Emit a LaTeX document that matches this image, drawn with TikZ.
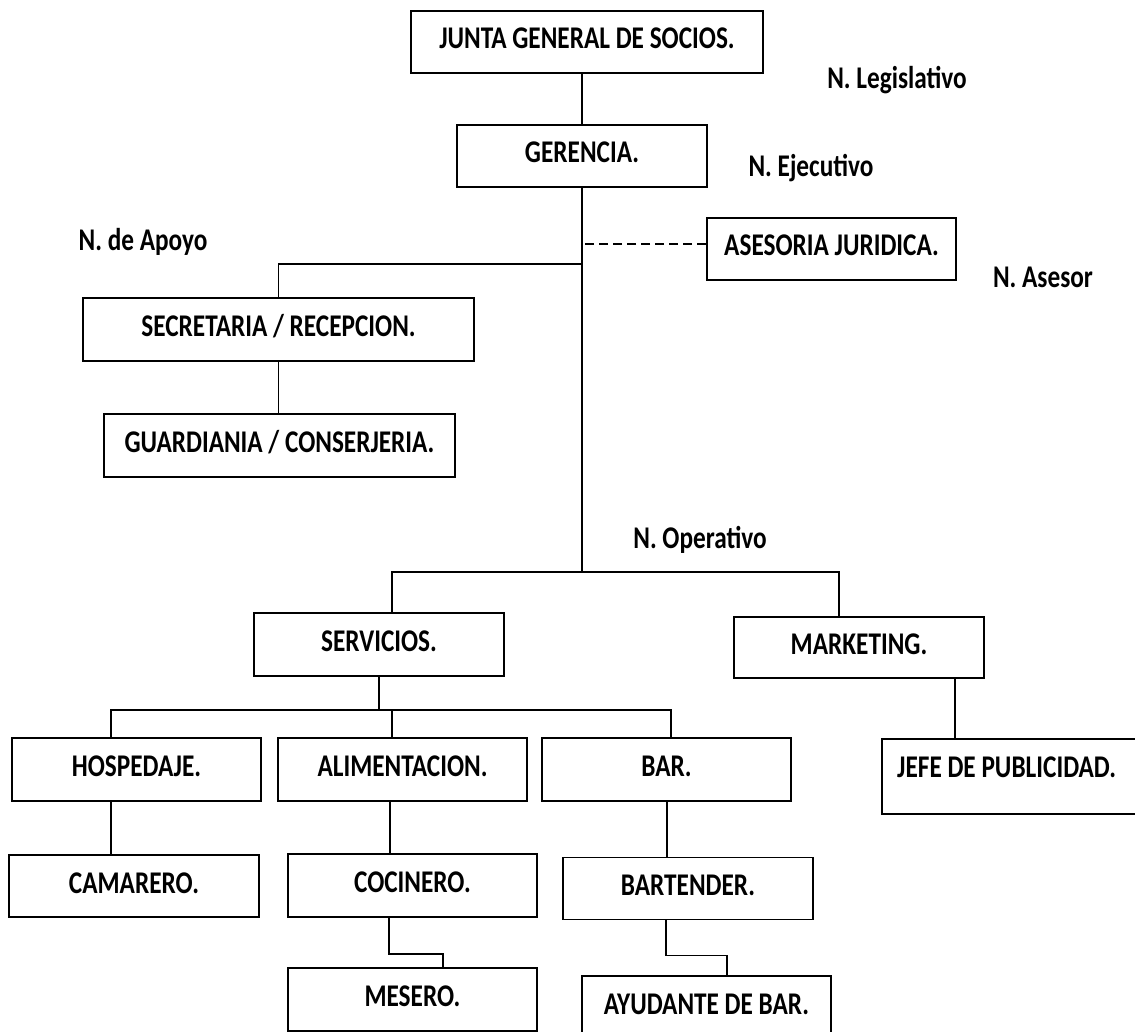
\documentclass[tikz,border=0pt]{standalone}
\usepackage{fontspec}
\setmainfont{Carlito}[FakeStretch=0.8]
\usetikzlibrary{calc, positioning}

\tikzset{
  puesto/.style={draw, line width=1.9pt, inner sep=0pt, minimum width=250pt,
    minimum height=62pt, text height=20pt, text depth=6pt},
  nivel/.style={inner sep=0pt},
  linea/.style={line width=1.9pt},
}

\begin{document}
\begin{tikzpicture}[x=1pt, y=-1pt, font=\bfseries\fontsize{31.6}{36}\selectfont]
    \useasboundingbox (0,0) rectangle (1135,1032);
    \fill[white] (0,0) rectangle (1135,1032);
    \clip (0,0) rectangle (1135,1032);

    % niveles
    \node[nivel] (leg) at (897,80) {N. Legislativo};
    \node[nivel] (eje) at (811,168) {N. Ejecutivo};
    \node[nivel] (apy) at (143,242) {N. de Apoyo};
    \node[nivel] (asr) at (1043,277) {N. Asesor};
    \node[nivel] (opr) at (700,540) {N. Operativo};

    % cargos
    \node[puesto, minimum width=352pt] (junta) at (587,42) {JUNTA GENERAL DE SOCIOS.};
    \node[puesto] (ger) at (582,156) {GERENCIA.};
    \node[puesto, minimum width=249pt] (ase) at (831.5,249) {ASESORIA JURIDICA.};
    \node[puesto, minimum width=391pt, minimum height=63pt] (sec) at (278.5,329.5) {SECRETARIA / RECEPCION.};
    \node[puesto, minimum width=351pt, minimum height=63pt] (gua) at (279.5,445.5) {GUARDIANIA / CONSERJERIA.};
    \node[puesto, minimum height=63pt] (ser) at (379,644.5) {SERVICIOS.};
    \node[puesto, minimum height=61pt] (mkt) at (859,647.5) {MARKETING.};
    \node[puesto, minimum width=249pt, minimum height=63pt] (hos) at (136.5,769.5) {HOSPEDAJE.};
    \node[puesto, minimum width=249pt, minimum height=63pt] (ali) at (402.5,769.5) {ALIMENTACION.};
    \node[puesto, minimum width=249pt, minimum height=63pt] (bar) at (666.5,769.5) {BAR.};
    \node[draw, linea, anchor=north west, minimum width=264pt, minimum height=75pt] (jefe) at (881,738) {};
    \node[nivel, anchor=west] (jefetxt) at (897,767) {JEFE DE PUBLICIDAD.};
    \node[puesto] (cam) at (134,886) {CAMARERO.};
    \node[puesto, minimum width=249pt, minimum height=63pt] (coc) at (412.5,885.5) {COCINERO.};
    \node[puesto] (bart) at (688,888.5) {BARTENDER.};
    \node[puesto, minimum width=249pt, minimum height=63pt] (mes) at (412.5,999.5) {MESERO.};
    \node[puesto, minimum width=249pt] (ayu) at (706.5,1007) {AYUDANTE DE BAR.};

    % puntos de union
    \coordinate (apo) at (582,264);
    \coordinate (ope) at (582,572);
    \coordinate (svc) at (379,710);

    % conexiones
    \draw[linea] (ger.north) -- (ger.north |- junta.south);
    \draw[linea] (ger.south) -- (ope);
    \draw[linea, dash pattern=on 9pt off 5pt] ([yshift=5pt]ase.west) -- ([yshift=5pt]ase.west -| ger.south);
    \draw[linea] (apo) -| (sec.north);
    \draw[linea] (sec.south) -- (sec.south |- gua.north);
    \draw[linea] ([xshift=13pt]ser.north) |- (ope);
    \draw[linea] (ope) -| ([xshift=-20pt]mkt.north);
    \draw[linea] (ser.south) -- (svc);
    \draw[linea] ([xshift=-25.5pt]hos.north) |- (svc);
    \draw[linea] (svc) -| ([xshift=4.5pt]bar.north);
    \draw[linea] ([xshift=-10.5pt]ali.north) -- ([xshift=-10.5pt]ali.north |- svc);
    \draw[linea] ([xshift=96pt]mkt.south) -- ([xshift=96pt]mkt.south |- jefe.north);
    \draw[linea] ([xshift=-23pt]cam.north) -- ([xshift=-23pt]cam.north |- hos.south);
    \draw[linea] ([xshift=-22.5pt]coc.north) -- ([xshift=-22.5pt]coc.north |- ali.south);
    \draw[linea] ([xshift=-21pt]bart.north) -- ([xshift=-21pt]bart.north |- bar.south);
    \draw[linea] ([xshift=-23.5pt]coc.south) |- ++(54,36) -- ([xshift=30.5pt]mes.north);
    \draw[linea] ([xshift=-22pt]bart.south) |- ++(61,35) -- ([xshift=20.5pt]ayu.north);
\end{tikzpicture}
\end{document}
